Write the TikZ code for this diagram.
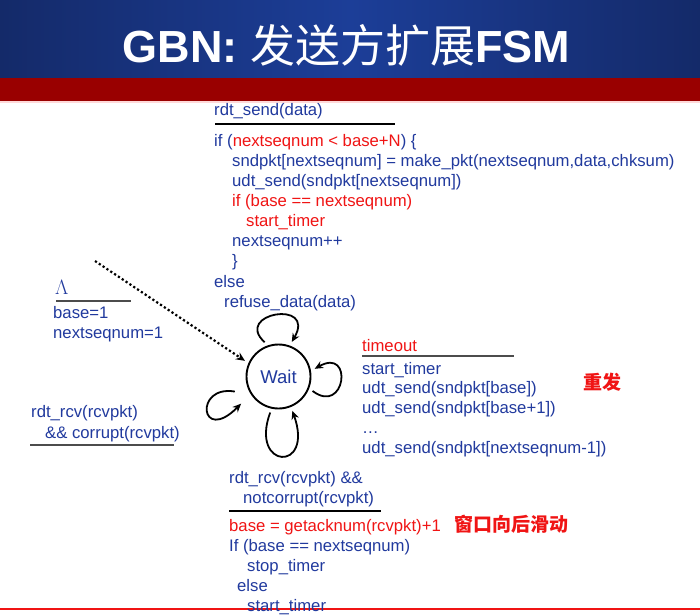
\documentclass[tikz,border=0pt]{standalone}
\usepackage{fontspec}
\setmainfont{Liberation Sans}
\newfontfamily\cjk{Noto Sans CJK SC}
\usetikzlibrary{arrows.meta,calc}
\definecolor{txtblue}{RGB}{33,58,158}
\definecolor{txtred}{RGB}{240,20,20}
\definecolor{bardark}{RGB}{20,42,105}
\definecolor{barmid}{RGB}{28,62,152}
\definecolor{barred}{RGB}{153,0,0}

\begin{document}
\begin{tikzpicture}[x=1pt,y=-1pt,
  code/.style={anchor=base west, inner sep=0pt, text=txtblue,
    font=\fontsize{16.7}{20}\selectfont},
  hot/.style={code, text=txtred},
  note/.style={anchor=west, inner sep=0pt, text=txtred,
    font=\fontsize{19}{22}\selectfont\cjk\bfseries},
  guard/.style={line width=2pt, draw=black!80},
  selfloop/.style={line width=1.8pt, -{Stealth[length=8.5pt,width=7.5pt]}},
  initarrow/.style={line width=2.2pt, dash pattern=on 2.2pt off 2.4pt,
    -{Stealth[length=9pt,width=8pt]}},
  ]
\useasboundingbox (0,0) rectangle (700,615);
\fill[white] (0,0) rectangle (700,615);

% title banner
\shade[left color=bardark, right color=bardark, middle color=barmid]
  (0,0) rectangle (700,78);
\fill[barred] (0,78) rectangle (700,101);
\fill[red!15] (0,101) rectangle (700,102.5);
\node[anchor=base, inner sep=0pt, text=white, font=\fontsize{45}{50}\selectfont]
  (title) at (346.5,63) {\textbf{GBN:} {\cjk 发送方扩展}\textbf{FSM}};

% the single state
\node[circle, draw, line width=1.9pt, minimum size=64pt, inner sep=0pt,
  outer sep=5pt, text=txtblue, font=\fontsize{18.5}{20}\selectfont]
  (wait) at (278.5,376.5) {Wait};

% initial transition
\coordinate (init) at (95,261);
\draw[initarrow] (init) -- (wait.155);

% self loops
\draw[selfloop] (wait.112) .. controls +(-32,-29) and +(25,-43) .. (wait.69);
\draw[selfloop] (wait.-23) .. controls +(33,25) and +(39,-22) .. (wait.12);
\draw[selfloop] (wait.-103) .. controls +(-21,57) and +(22,62) .. (wait.-68);
\draw[selfloop] ($(wait.center)!1.25!(wait.199)$) .. controls +(-41,-7) and +(-41,41)
  .. ($(wait.center)!1.25!(wait.216)$);

% rdt_send transition
\node[code] (t0) at (214,115) {rdt\_send(data)};
\draw[guard, draw=black] (215,124) -- (395,124);
\node[code] (t1) at (214,146) {if (\textcolor{txtred}{nextseqnum < base+N}) \{};
\node[code] (t2) at (232,166) {sndpkt[nextseqnum] = make\_pkt(nextseqnum,data,chksum)};
\node[code] (t3) at (232,186) {udt\_send(sndpkt[nextseqnum])};
\node[hot]  (t4) at (232,206) {if (base == nextseqnum)};
\node[hot]  (t5) at (246,226) {start\_timer};
\node[code] (t6) at (232,246) {nextseqnum++};
\node[code] (t7) at (232,266) {\}};
\node[code] (t8) at (214,287) {else};
\node[code] (t9) at (224,307) {refuse\_data(data)};

% initialisation
\node[code, font=\fontsize{20}{22}\selectfont] (lam) at (55,294) {$\Lambda$};
\draw[guard, draw=black!70] (56,301) -- (131,301);
\node[code] (i1) at (53,318) {base=1};
\node[code] (i2) at (53,338) {nextseqnum=1};

% corrupt ack
\node[code] (c1) at (31,417) {rdt\_rcv(rcvpkt)};
\node[code] (c2) at (45,438) {\&\& corrupt(rcvpkt)};
\draw[guard, draw=black!70] (30,445) -- (174,445);

% timeout
\node[hot]  (r0) at (362,351) {timeout};
\draw[guard, draw=black!70] (362,356) -- (514,356);
\node[code] (r1) at (362,374) {start\_timer};
\node[code] (r2) at (362,393) {udt\_send(sndpkt[base])};
\node[code] (r3) at (362,413) {udt\_send(sndpkt[base+1])};
\node[code] (r4) at (362,433) {…};
\node[code] (r5) at (362,453) {udt\_send(sndpkt[nextseqnum-1])};
\node[note] (n1) at (583,382) {重发};

% good ack
\node[code] (b0) at (229,483) {rdt\_rcv(rcvpkt) \&\&};
\node[code] (b1) at (243,503) {notcorrupt(rcvpkt)};
\draw[guard, draw=black] (229,511) -- (381,511);
\node[hot]  (b2) at (229,531) {base = getacknum(rcvpkt)+1};
\node[note] (n2) at (454,524) {窗口向后滑动};
\node[code] (b3) at (229,551) {If (base == nextseqnum)};
\node[code] (b4) at (247,571) {stop\_timer};
\node[code] (b5) at (237,591) {else};
\draw[txtred, line width=1.2pt] (0,609) -- (700,609);
\node[code] (b6) at (247,611) {start\_timer};
\end{tikzpicture}
\end{document}
